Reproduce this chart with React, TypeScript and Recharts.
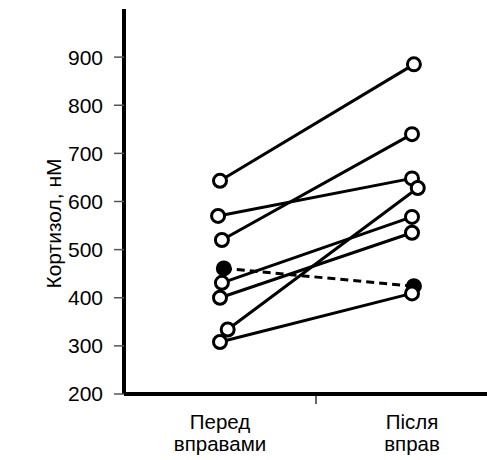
import { LineChart, Line, XAxis, YAxis } from "recharts";

// category labels (two lines each) and their x positions
const categoryLines = [
  ["Перед", "вправами"],
  ["Після", "вправ"],
];
const categoryX = [1, 2];

// cortisol per subject, before / after
const beforeValues = [643, 570, 520, 461, 431, 400, 334, 308];
const afterValues = [885, 648, 740, 424, 568, 535, 628, 409];
// small horizontal offsets of the points as plotted
const beforeX = [1.0, 0.99, 1.01, 1.02, 1.01, 1.0, 1.04, 1.0];
const afterX = [2.01, 2.0, 2.0, 2.01, 2.0, 2.0, 2.03, 2.0];
// subject drawn with dashed line + filled markers
const dashedSubject = [false, false, false, true, false, false, false, false];

const yTicks = [200, 300, 400, 500, 600, 700, 800, 900];
const yLabel = "Кортизол, нМ";

const FONT = "'Liberation Sans', Arial, sans-serif";

const subjects = beforeValues.map((b, i) => [
  { x: beforeX[i], y: b },
  { x: afterX[i], y: afterValues[i] },
]);

const CategoryTick = (props: any) => {
  const { x, y, payload } = props;
  const idx = categoryX.indexOf(payload.value);
  if (idx < 0) {
    // separator tick between the two groups
    return <line x1={x} x2={x} y1={y + 2} y2={y + 10} stroke="#333" strokeWidth={1.5} />;
  }
  return (
    <text x={x} y={y} textAnchor="middle" fontFamily={FONT} fontSize={20.5} fill="#000">
      <tspan x={x} dy={35}>{categoryLines[idx][0]}</tspan>
      <tspan x={x} dy={22}>{categoryLines[idx][1]}</tspan>
    </text>
  );
};

export default function App() {
  return (
    <div
      style={{
        position: "fixed",
        left: 0,
        top: 0,
        width: 487,
        height: 460,
        overflow: "hidden",
        background: "#fff",
      }}
    >
      <LineChart width={508} height={460} margin={{ top: 9, right: 0, bottom: 0, left: 0 }}>
        <XAxis
          type="number"
          dataKey="x"
          domain={[0.5, 2.5]}
          ticks={[1, 1.5, 2]}
          interval={0}
          tick={<CategoryTick />}
          tickLine={false}
          tickSize={0}
          tickMargin={0}
          height={66}
          axisLine={{ stroke: "#000", strokeWidth: 4 }}
          allowDuplicatedCategory={false}
        />
        <YAxis
          type="number"
          domain={[200, 1000]}
          ticks={yTicks}
          interval={0}
          width={124}
          tickSize={10}
          tickMargin={11}
          tick={{ fontFamily: FONT, fontSize: 21, fill: "#000" }}
          tickLine={{ stroke: "#555", strokeWidth: 1.5 }}
          axisLine={{ stroke: "#000", strokeWidth: 4 }}
          label={{
            value: yLabel,
            angle: -90,
            position: "insideLeft",
            dx: 49,
            dy: 22,
            style: { fontFamily: FONT, fontSize: 21, fill: "#000", textAnchor: "middle" },
          }}
        />
        {subjects.map((pts, i) => (
          <Line
            key={`s-${i}`}
            data={pts}
            dataKey="y"
            type="linear"
            stroke="#000"
            strokeWidth={3}
            strokeDasharray={dashedSubject[i] ? "8 5" : undefined}
            dot={{
              r: 6.5,
              fill: dashedSubject[i] ? "#000" : "#fff",
              stroke: "#000",
              strokeWidth: 3,
              strokeDasharray: "",
            }}
            activeDot={false}
            isAnimationActive={false}
          />
        ))}
      </LineChart>
    </div>
  );
}
